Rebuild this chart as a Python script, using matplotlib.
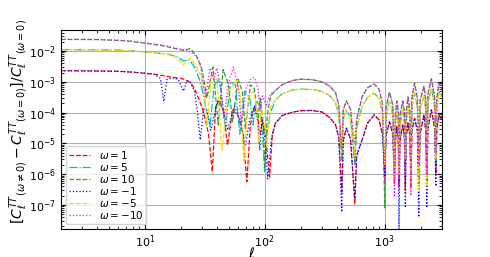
import numpy as np
import matplotlib
matplotlib.use("Agg")
import matplotlib.pyplot as plt

# multipoles sampled at ell >= 123 (shared by all curves)
ell_hi = [123, 140, 170, 200, 250, 300, 350, 390, 415, 440, 452, 480, 520, 565, 585,
          650, 720, 820, 900, 960, 1005, 1030, 1100, 1170, 1210, 1230, 1265, 1300,
          1320, 1345, 1420, 1465, 1490, 1515, 1570, 1625, 1660, 1690, 1780, 1880,
          1930, 1980, 2130, 2210, 2250, 2300, 2460, 2620, 2680, 2730, 2850, 3000]

# omega = 1
ell_lo_p1 = [2, 4, 6, 8, 10, 12, 14, 17, 20, 22, 24, 26, 28, 30, 32, 34, 36.6, 39, 42,
             45, 49, 54, 60, 66, 71, 76, 82, 87, 91, 96, 102, 110, 116]
lo_p1 = [2.3e-3, 2.25e-3, 2.2e-3, 2.05e-3, 1.9e-3, 1.75e-3, 1.6e-3, 1.4e-3, 1.3e-3,
         1.15e-3, 9.5e-4, 6e-4, 3e-4, 1.5e-4, 6e-5, 2e-5, 1.2e-6, 1.6e-4, 2.6e-4,
         1.2e-4, 8.8e-6, 1.2e-4, 8e-5, 2e-5, 5.6e-7, 4e-5, 1.6e-4, 9e-5, 2e-5, 5e-5,
         1.5e-5, 8e-7, 2e-5]
hi_p1 = [4.5e-5, 8e-5, 1.03e-4, 1.15e-4, 1.17e-4, 1.05e-4, 6.8e-5, 4e-5, 1.6e-5, 2.6e-7,
         1.2e-5, 3.1e-5, 1.4e-5, 1.1e-7, 4e-6, 1.3e-5, 4.5e-5, 8.4e-5, 5.8e-5, 2e-5,
         2e-6, 1.8e-5, 5.1e-5, 2e-5, 5e-7, 1e-5, 3.5e-5, 1.5e-5, 4e-7, 1.2e-5, 4e-5,
         1.5e-5, 3e-7, 1.5e-5, 4.5e-5, 1.8e-5, 4e-7, 2.5e-5, 6.5e-5, 2.5e-5, 5e-7,
         2e-5, 8.4e-5, 2.5e-5, 5e-7, 3e-5, 1.23e-4, 3e-5, 1e-6, 3e-5, 8.4e-5, 6e-5]

# omega = 5
ell_lo_p5 = [2, 4, 6, 8, 10, 13, 16, 19, 21, 23.5, 26, 28, 30, 33, 35, 38, 42, 47, 52,
             57, 62, 68, 75, 80, 85, 92, 97, 100, 104, 112]
lo_p5 = [1.12e-2, 1.1e-2, 1.08e-2, 1.0e-2, 9.5e-3, 8.5e-3, 7.8e-3, 6.2e-3, 4.8e-3,
         5.2e-3, 3e-3, 1.5e-3, 6e-4, 1e-4, 4e-5, 8e-4, 1.2e-3, 3e-5, 1e-3, 8e-4, 2e-5,
         5e-4, 3e-4, 4e-5, 2.5e-4, 1.5e-4, 1e-5, 1.2e-6, 2e-5, 1e-4]
hi_p5 = [2.6e-4, 4.1e-4, 5.4e-4, 5.8e-4, 5.6e-4, 4.9e-4, 3.5e-4, 2.1e-4, 8.5e-5, 3e-6,
         6e-5, 1.2e-4, 6.5e-5, 2e-6, 3e-5, 1.6e-4, 3.1e-4, 4.3e-4, 2.9e-4, 1e-4,
         5e-7, 7.5e-5, 2.3e-4, 9e-5, 1e-6, 4e-5, 1.2e-4, 6e-5, 2e-6, 4e-5, 1.2e-4,
         5e-5, 1e-6, 5e-5, 1.6e-4, 6e-5, 1e-6, 1.5e-4, 4.5e-4, 1.5e-4, 1e-6,
         1.25e-4, 3.5e-4, 1.25e-4, 1e-6, 2e-4, 6.3e-4, 1.5e-4, 2e-6, 1.5e-4, 4.6e-4, 3e-4]

# omega = 10
ell_lo_p10 = [2, 4, 7, 10, 14, 18, 21, 24, 27, 30, 33, 37, 41, 45, 50, 54, 60, 65, 69,
              76, 82, 88, 92, 97, 100, 105, 112]
lo_p10 = [2.38e-2, 2.36e-2, 2.15e-2, 1.8e-2, 1.5e-2, 1.2e-2, 1.05e-2, 1.2e-2, 7e-3,
          2.5e-3, 3e-4, 3e-3, 4e-5, 2.5e-3, 8e-4, 5e-5, 1.2e-3, 5e-4, 3e-5, 8e-4, 6e-4,
          6e-5, 3e-4, 5e-5, 1.5e-6, 8e-5, 3.5e-4]
hi_p10 = [5.2e-4, 8.1e-4, 1.1e-3, 1.22e-3, 1.17e-3, 1.0e-3, 7.2e-4, 4.4e-4, 1.8e-4, 4e-6,
          1.2e-4, 2.4e-4, 1.3e-4, 2.5e-6, 6e-5, 3.3e-4, 6.4e-4, 8.5e-4, 5.8e-4, 2e-4,
          8e-8, 1.5e-4, 4.6e-4, 1.8e-4, 2e-6, 8e-5, 2.4e-4, 1.2e-4, 3e-6, 8e-5, 2.4e-4,
          1e-4, 2e-6, 1e-4, 3.2e-4, 1.2e-4, 1e-6, 3e-4, 9.1e-4, 3e-4, 1e-6,
          2.5e-4, 7.1e-4, 2.5e-4, 1e-6, 4e-4, 1.26e-3, 3e-4, 3e-6, 3e-4, 9.3e-4, 6e-4]

# omega = -1
ell_lo_m1 = [2, 4, 6, 8, 10, 12, 13.5, 14.4, 15.3, 17, 19, 21, 22.5, 24, 26, 27.5, 29,
             31, 33, 35.5, 40.5, 45, 49, 56, 63, 69, 75, 82, 87, 91, 95, 100, 106, 114]
lo_m1 = [2.3e-3, 2.25e-3, 2.2e-3, 2.05e-3, 1.9e-3, 1.75e-3, 1.3e-3, 2.3e-4, 1.2e-3,
         1.35e-3, 1.2e-3, 5e-4, 1.1e-3, 9.5e-4, 5e-4, 1e-4, 1.3e-5, 1.3e-4, 1.2e-4,
         2.7e-5, 2.3e-4, 1.3e-4, 2.7e-5, 1.6e-4, 5e-5, 8e-6, 6e-5, 1.6e-4, 6e-5, 6e-6,
         7e-5, 2e-5, 7e-7, 1.5e-5]
hi_m1 = [4.5e-5, 8e-5, 1.03e-4, 1.15e-4, 1.17e-4, 1.05e-4, 6.8e-5, 4e-5, 1.6e-5, 5.8e-8,
         1.2e-5, 3.1e-5, 1.4e-5, 1.6e-7, 4e-6, 1.3e-5, 4.5e-5, 8.4e-5, 5.8e-5, 2e-5,
         8e-7, 1.8e-5, 5.1e-5, 2e-5, 1e-6, 1e-5, 3.5e-5, 1.5e-5, 1.6e-8, 1.2e-5, 4e-5,
         1.5e-5, 9e-8, 1.5e-5, 4.5e-5, 1.8e-5, 1e-6, 2.5e-5, 6.5e-5, 2.5e-5, 4e-8,
         2e-5, 8.4e-5, 2.5e-5, 8e-8, 3e-5, 1.23e-4, 3e-5, 4e-7, 3e-5, 8.4e-5, 6e-5]

# omega = -5
ell_lo_m5 = [2, 4, 6, 8, 10, 13, 16, 19, 21, 22.5, 24, 26.5, 29, 31, 33, 36, 40, 44, 50,
             58, 63, 67, 73, 80, 85, 89, 94, 100, 104, 112]
lo_m5 = [1.1e-2, 1.08e-2, 1.05e-2, 1.0e-2, 9.3e-3, 8.5e-3, 7.5e-3, 5.8e-3, 3.5e-3,
         5e-3, 5.8e-3, 3.5e-3, 1.8e-3, 6e-4, 4e-5, 1.5e-3, 1.2e-3, 6e-6, 5e-4, 1.1e-3,
         3e-4, 2.5e-6, 3e-4, 5e-4, 2e-4, 1.1e-5, 1.5e-4, 3e-5, 8e-6, 1.5e-4]
hi_m5 = [2.6e-4, 4.1e-4, 5.4e-4, 5.8e-4, 5.6e-4, 4.9e-4, 3.5e-4, 2.1e-4, 8.5e-5, 5e-6,
         6e-5, 1.2e-4, 6.5e-5, 4e-6, 3e-5, 1.6e-4, 3.1e-4, 4.3e-4, 2.9e-4, 1e-4,
         2e-6, 7.5e-5, 2.3e-4, 9e-5, 8e-7, 4e-5, 1.2e-4, 6e-5, 1e-6, 4e-5, 1.2e-4,
         5e-5, 3e-6, 5e-5, 1.6e-4, 6e-5, 5e-7, 1.5e-4, 4.5e-4, 1.5e-4, 3e-7,
         1.25e-4, 3.5e-4, 1.25e-4, 4e-7, 2e-4, 6.3e-4, 1.5e-4, 3e-6, 1.5e-4, 4.6e-4, 3e-4]

# omega = -10
ell_lo_m10 = [2, 4, 7, 10, 14, 18, 21, 24, 27, 29, 32, 35, 37.5, 40, 43, 46, 50, 55, 60,
              64, 70, 76, 82, 88, 92, 96, 103, 112]
lo_m10 = [2.4e-2, 2.38e-2, 2.2e-2, 1.85e-2, 1.55e-2, 1.25e-2, 1.1e-2, 9.5e-3, 6.5e-3,
          4e-3, 3e-4, 2.8e-3, 1.2e-3, 2.8e-3, 6e-4, 8e-5, 1e-3, 3e-3, 8e-4, 4e-5, 6e-4,
          1.2e-3, 1.4e-3, 6e-4, 1.3e-4, 3.5e-4, 1.8e-4, 4e-4]
hi_m10 = [5.2e-4, 8.1e-4, 1.1e-3, 1.22e-3, 1.17e-3, 1.0e-3, 7.2e-4, 4.4e-4, 1.8e-4, 6e-6,
          1.2e-4, 2.4e-4, 1.3e-4, 1e-5, 6e-5, 3.3e-4, 6.4e-4, 8.5e-4, 5.8e-4, 2e-4,
          5e-7, 1.5e-4, 4.6e-4, 1.8e-4, 1.8e-7, 8e-5, 2.4e-4, 1.2e-4, 5e-7, 8e-5, 2.4e-4,
          1e-4, 1e-6, 1e-4, 3.2e-4, 1.2e-4, 2e-7, 3e-4, 9.1e-4, 3e-4, 2e-6,
          2.5e-4, 7.1e-4, 2.5e-4, 1e-6, 4e-4, 1.26e-3, 3e-4, 5e-6, 3e-4, 9.3e-4, 6e-4]

series = [
    (r'$\omega=1$', ell_lo_p1, lo_p1, hi_p1, 'red', '--'),
    (r'$\omega=5$', ell_lo_p5, lo_p5, hi_p5, 'c', '-.'),
    (r'$\omega=10$', ell_lo_p10, lo_p10, hi_p10, '#2ca02c', '--'),
    (r'$\omega=-1$', ell_lo_m1, lo_m1, hi_m1, 'blue', ':'),
    (r'$\omega=-5$', ell_lo_m5, lo_m5, hi_m5, 'gold', '--'),
    (r'$\omega=-10$', ell_lo_m10, lo_m10, hi_m10, 'magenta', ':'),
]

fig = plt.figure(figsize=(4.9, 2.57), dpi=100)
ax = fig.add_axes([0.1245, 0.109, 0.777, 0.774])

for label, ell_lo, lo, hi, color, ls in series:
    ax.loglog(ell_lo + ell_hi, lo + hi, color=color, ls=ls, lw=0.9, label=label)

ax.set_xlim(2, 3000)
ax.set_ylim(1.65e-8, 4.8e-2)
ax.grid(True, which='major', color='#b0b0b0', lw=0.8)
ax.tick_params(which='both', direction='in', top=True, right=True, labelsize=8)

ax.set_xlabel(r'$\ell$', fontsize=10, labelpad=-3)
ax.set_ylabel(r'$[{C_\ell^{TT}}_{(\omega\neq0)} - {C_\ell^{TT}}_{(\omega=0)}]/{C_\ell^{TT}}_{(\omega=0)}$',
              fontsize=10)
ax.yaxis.set_label_coords(-0.082, 0.54)
ax.legend(loc='lower left', fontsize=7.5, labelspacing=0.0, handlelength=2.0,
          handletextpad=0.8, borderpad=0.3)

fig.savefig('out.png', dpi=100)
